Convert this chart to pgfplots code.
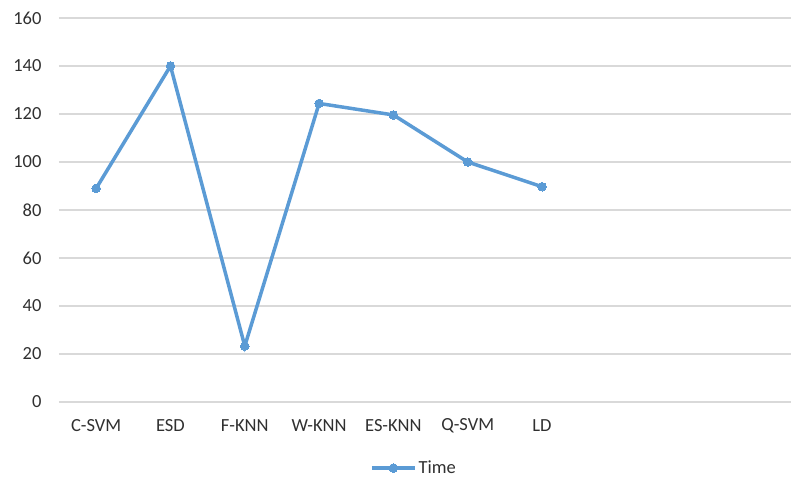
\documentclass[border=0pt]{standalone}
\usepackage{pgfplots}
\pgfplotsset{compat=1.18}
\usepackage{fontspec}
\setmainfont{Carlito}
\definecolor{serieblue}{HTML}{5B9BD5}
\definecolor{gridgray}{HTML}{D9D9D9}
\definecolor{labelgray}{HTML}{303030}

\pgfplotstableread{
idx time
0 89
1 140
2 23.3
3 124.4
4 119.6
5 100
6 89.7
}\timedata

\begin{document}
\begin{tikzpicture}[x=1pt,y=1pt]
\useasboundingbox (-59,-77) rectangle (732,402);
\begin{axis}[
  at={(0,0)}, anchor=south west,
  scale only axis,
  width=732pt, height=384pt,
  xmin=-0.5, xmax=9.35,
  ymin=0, ymax=160,
  ytick={0,20,...,160},
  xtick={0,...,6},
  xticklabels={C-SVM,ESD,F-KNN,W-KNN,ES-KNN,Q-SVM,LD},
  axis line style={draw=none},
  major tick length=0pt,
  ymajorgrids,
  major grid style={gridgray, line width=1.5pt},
  tick label style={font=\fontsize{18.5}{20}\selectfont, text=labelgray},
  /pgf/number format/assume math mode=true,
  yticklabel style={anchor=east, xshift=-14pt},
  xticklabel style={anchor=center, yshift=-24pt},
  clip=false,
  legend style={at={(0.485,-0.172)}, anchor=center, draw=none, fill=none,
    font=\fontsize{18.5}{20}\selectfont, text=labelgray,
    /tikz/every even column/.append style={column sep=0pt}},
  legend image code/.code={
    \draw[#1, mark=none] (0pt,0pt) -- (43pt,0pt);
    \draw[#1, only marks] plot coordinates {(21.5pt,0pt)};
  },
]
\addplot[serieblue, line width=3.5pt, mark=*, mark size=4.3pt,
  mark options={line width=0pt, fill=serieblue}]
  table[x=idx, y=time] {\timedata};
\addlegendentry{Time}
\end{axis}
\end{tikzpicture}
\end{document}
